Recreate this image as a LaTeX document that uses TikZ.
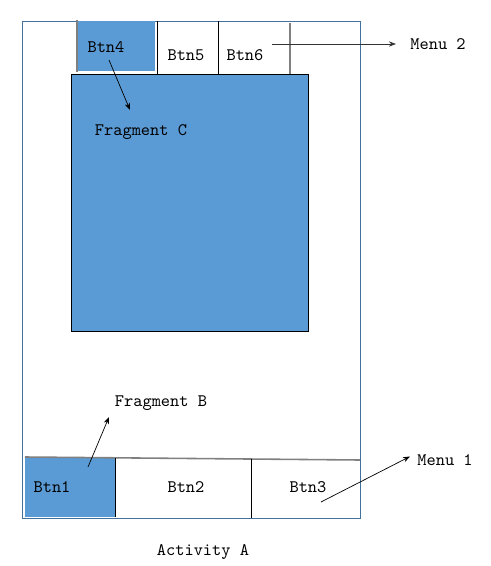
\documentclass[tikz,border=0pt]{standalone}
\usepackage{tikz}
\usetikzlibrary{arrows.meta}

\definecolor{frameblue}{RGB}{65,113,156}
\definecolor{fillblue}{RGB}{91,155,213}

\tikzset{
	label/.style={font=\ttfamily\fontsize{10}{12}\selectfont, inner sep=0pt},
	pointer/.style={-{Stealth[length=4pt,width=3pt]}, thin},
	divider/.style={gray, line width=0.9pt},
}

\begin{document}
\begin{tikzpicture}[x=0.02cm,y=-0.02cm]
	
	\useasboundingbox (0,0) rectangle (491,566);
	
	% Activity frame
	\draw[frameblue, thin] (22,21) rectangle (360,518);
	
	%%%%%%%%%%%%%%%%%%%%%%%%%%%%%%%%%%%%%%%%%%%%%%%%%%%%%%%%%%%%%%
	% Top menu (Menu 2)
	\fill[fillblue] (78,21) rectangle (155,71);
	\draw[divider] (77,20) -- (77,72);
	\draw (157,21) -- (157,74);
	\draw (218,21) -- (218,74);
	\draw[divider] (290,23) -- (290,74);
	
	% Fragment C
	\draw[fill=fillblue] (71,74) rectangle (308,331);
	
	\node[label] (Btn4) at (106,47) {Btn4};
	\node[label] (Btn5) at (186,55) {Btn5};
	\node[label] (Btn6) at (245,55) {Btn6};
	\node[label] (FragC) at (141,132) {Fragment C};
	\node[label, anchor=west] (Menu2) at (410,44) {Menu 2};
	
	\coordinate (C1) at (109,60);
	\coordinate (C2) at (130,110);
	\coordinate (M2) at (272,44);
	
	\draw[pointer] (C1) -- (C2);
	\draw[pointer, black!80] (M2) -- ([xshift=-8]Menu2.west);
	
	%%%%%%%%%%%%%%%%%%%%%%%%%%%%%%%%%%%%%%%%%%%%%%%%%%%%%%%%%%%%%%
	% Bottom menu (Menu 1)
	\fill[fillblue] (25,458) rectangle (115,517);
	\draw[divider] (25,457) -- (360,460);
	\draw (115,458) -- (115,517);
	\draw (251,459) -- (251,518);
	
	\node[label] (Btn1) at (52,487) {Btn1};
	\node[label] (Btn2) at (186,487) {Btn2};
	\node[label] (Btn3) at (308,487) {Btn3};
	\node[label] (FragB) at (161,403) {Fragment B};
	\node[label, anchor=west] (Menu1) at (417,460) {Menu 1};
	\node[label] (ActA) at (203,552) {Activity A};
	
	\coordinate (B1) at (88,467);
	\coordinate (B2) at (109,417);
	\coordinate (M1) at (321,502);
	
	\draw[pointer] (B1) -- (B2);
	\draw[pointer] (M1) -- ([xshift=-4,yshift=2]Menu1.west);
	
\end{tikzpicture}
\end{document}
